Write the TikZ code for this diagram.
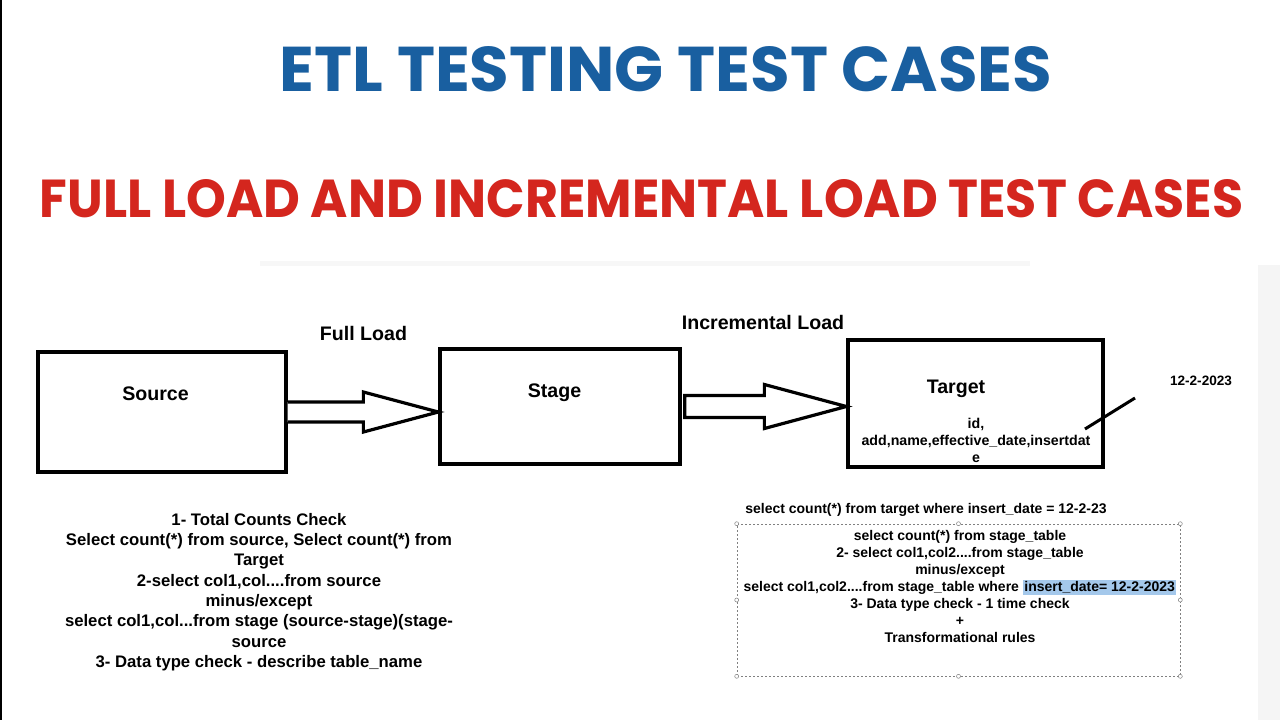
\documentclass[tikz,border=0pt]{standalone}
\usepackage{fontspec}
\setmainfont{Liberation Sans}
\newfontfamily\headfont{Poppins}
\usepackage{graphicx}
\usetikzlibrary{calc}

\definecolor{etlblue}{RGB}{25,95,160}
\definecolor{etlred}{RGB}{212,38,30}
\definecolor{hlblue}{RGB}{164,200,235}

\tikzset{
  box/.style={draw, line width=3.3pt, inner sep=0pt},
  lbl/.style={font=\fontsize{19.6}{22}\selectfont\bfseries, anchor=base, inner sep=0pt},
  fat/.style={draw, line width=3.2pt, line join=miter, fill=white},
  notes/.style={align=center, inner sep=0pt, anchor=north, font=\fontsize{16.7}{20.3}\selectfont\bfseries},
  smallnotes/.style={align=center, inner sep=0pt, anchor=north, font=\fontsize{14}{17}\selectfont\bfseries},
  selbox/.style={draw=gray, line width=0.6pt, dash pattern=on 2pt off 2pt, inner sep=0pt},
  handle/.style={circle, draw=gray, fill=white, line width=0.5pt, inner sep=0pt, minimum size=4pt}
}

\begin{document}
\begin{tikzpicture}[x=1pt,y=-1pt]
\useasboundingbox (0,0) rectangle (1280,720);
\fill[white] (0,0) rectangle (1280,720);
\fill[gray!8] (1258,265) rectangle (1280,720);
\fill[gray!6] (260,261) rectangle (1030,266);
\draw[line width=1.5pt] (1,0) -- (1,720);

% titles
\node[text=etlblue, inner sep=0pt] (ttl) at (666,69.5) {\resizebox{772pt}{45pt}{\headfont\bfseries ETL TESTING TEST CASES}};
\node[text=etlred, inner sep=0pt] (subttl) at (641.5,199) {\resizebox{1203pt}{38pt}{\headfont\bfseries FULL LOAD AND INCREMENTAL LOAD TEST CASES}};

% tables
\node[box, minimum width=248pt, minimum height=120pt] (src) at (162,412) {};
\node[box, minimum width=240pt, minimum height=115pt] (stg) at (560,406.5) {};
\node[box, minimum width=255pt, minimum height=127pt] (tgt) at (975.5,403.5) {};

\node[lbl] (srclbl) at (155.5,400) {Source};
\node[lbl] (stglbl) at (554.5,397) {Stage};
\node[lbl] (tgtlbl) at (956,393) {Target};
\node[lbl] (full) at (363.5,340) {Full Load};
\node[lbl] (incr) at (763,329) {Incremental Load};

\node[smallnotes, font=\fontsize{14.2}{17}\selectfont\bfseries] (cols) at (976,418) {id,\\add,name,effective\_date,insertdat\\e};
\node[lbl, font=\fontsize{13.6}{16}\selectfont\bfseries] (date) at (1201,385) {12-2-2023};

% load arrows
\coordinate (fltip) at (stg.west |- src.east);
\draw[fat] ($(src.east)+(0,-10)$) -- ($(fltip)+(-75,-10)$) -- ($(fltip)+(-75,-20)$) -- (fltip)
  -- ($(fltip)+(-75,20)$) -- ($(fltip)+(-75,10)$) -- ($(src.east)+(0,10)$);
\coordinate (iltip) at (tgt.west |- stg.east);
\draw[fat] ($(stg.east)+(3,-11)$) -- ($(iltip)+(-82,-11)$) -- ($(iltip)+(-82,-22)$) -- (iltip)
  -- ($(iltip)+(-82,22)$) -- ($(iltip)+(-82,11)$) -- ($(stg.east)+(3,11)$) -- cycle;

\coordinate (dateA) at (1085,429);
\coordinate (dateB) at (1135,398);
\draw[line width=3pt] (dateA) -- (dateB);

% test cases
\node[notes] (fullnotes) at (259,513) {1- Total Counts Check\\Select count(*) from source, Select count(*) from\\Target\\2-select col1,col....from source\\minus/except\\select col1,col...from stage (source-stage)(stage-\\source\\3- Data type check - describe table\_name};

\node[smallnotes] (tgtcount) at (926,503) {select count(*) from target where insert\_date = 12-2-23};

\node[selbox, minimum width=443pt, minimum height=152pt] (sel) at (958.5,600) {};
\foreach \a/\n in {north west/1,north/2,north east/3,east/4,south east/5,south/6,south west/7,west/8}
  \node[handle] (h\n) at (sel.\a) {};

\node[smallnotes] (incnotes) at (960,530) {select count(*) from stage\_table\\2- select col1,col2....from stage\_table\\minus/except\\select col1,col2....from stage\_table where {\setlength{\fboxsep}{1.5pt}\smash{\colorbox{hlblue}{insert\_date= 12-2-2023}}}\\3- Data type check - 1 time check\\+\\Transformational rules};
\end{tikzpicture}
\end{document}
